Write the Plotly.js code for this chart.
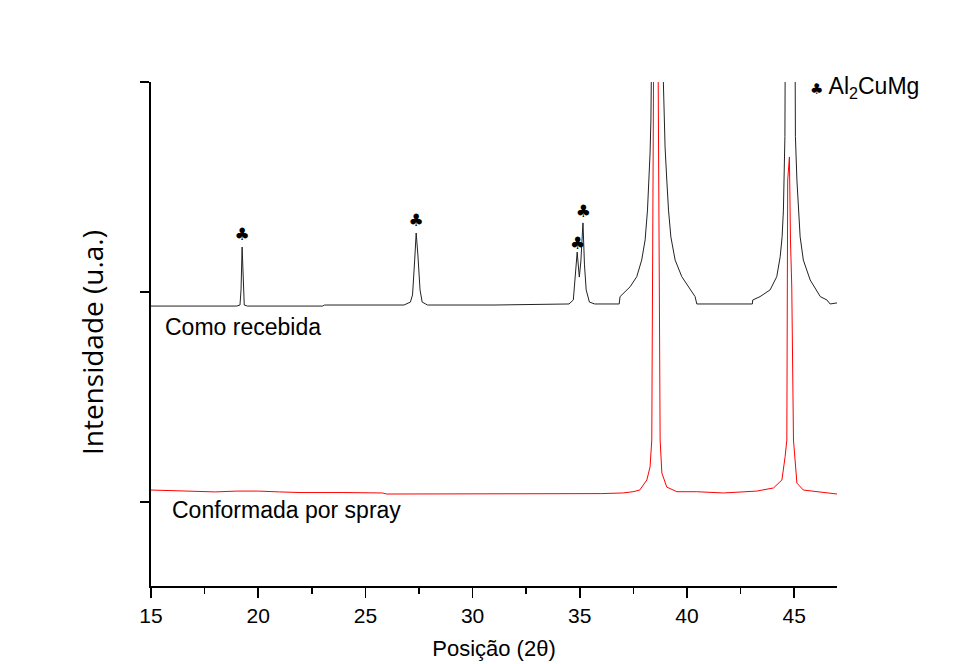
<!DOCTYPE html>
<html>
<head>
<meta charset="utf-8">
<script src="https://cdn.plot.ly/plotly-3.0.1.min.js"></script>
<style>html,body{margin:0;padding:0;background:#fff;}#chart{width:957px;height:664px;}</style>
</head>
<body>
<div id="chart"></div>
<script>
// "Como recebida" (as received) diffractogram, offset upward
const recebidaX = [15.0, 17.0, 19.0, 19.15, 19.2, 19.25, 19.3, 19.35, 19.5, 23.0, 23.1, 26.8, 27.1, 27.2, 27.3, 27.37, 27.45, 27.55, 27.65, 27.9, 31.0, 34.5, 34.7, 34.8, 34.88, 34.95, 34.98, 35.05, 35.15, 35.22, 35.3, 35.45, 35.7, 36.84, 36.88, 37.35, 37.66, 37.89, 38.05, 38.16, 38.24, 38.28, 38.32, 38.33, 38.62, 38.90, 38.94, 38.98, 39.06, 39.14, 39.25, 39.45, 39.76, 40.15, 40.38, 40.46, 43.05, 43.07, 43.41, 43.88, 44.19, 44.35, 44.44, 44.50, 44.53, 44.57, 44.58, 44.83, 45.05, 45.06, 45.13, 45.20, 45.28, 45.43, 45.75, 46.22, 46.53, 46.68, 47.0];
const recebidaY = [933, 933, 933, 938, 1010, 1214, 1010, 938, 933, 933, 938, 938, 952, 986, 1152, 1281, 1176, 1010, 952, 938, 938, 943, 962, 1081, 1190, 1105, 1071, 1143, 1329, 1129, 1010, 952, 943, 943, 978, 1025, 1073, 1152, 1248, 1390, 1533, 1662, 1819, 2000, 5000, 2000, 1819, 1690, 1533, 1390, 1262, 1152, 1073, 1010, 978, 943, 943, 962, 978, 1010, 1073, 1168, 1263, 1390, 1533, 1740, 2000, 5000, 2000, 1740, 1533, 1390, 1263, 1152, 1057, 978, 962, 943, 948];

// "Conformada por spray" (spray formed) diffractogram
const sprayX = [15.0, 16.0, 17.0, 18.0, 19.0, 20.0, 21.0, 22.0, 24.0, 25.0, 25.8, 26.0, 28.0, 30.0, 35.0, 36.0, 37.0, 37.49, 37.8, 38.13, 38.28, 38.36, 38.44, 38.55, 38.66, 38.75, 38.83, 39.06, 39.53, 40.46, 41.7, 43.26, 44.04, 44.43, 44.58, 44.66, 44.70, 44.78, 44.83, 44.89, 44.97, 45.13, 45.43, 46.06, 47.0];
const sprayY = [57, 55, 52, 48, 52, 52, 48, 45, 45, 45, 43, 38, 38, 38, 38, 40, 43, 49, 57, 105, 167, 295, 2000, 4500, 2000, 295, 138, 71, 49, 49, 43, 52, 67, 105, 216, 295, 1533, 1643, 1248, 1024, 295, 90, 57, 49, 38];

// Al2CuMg phase markers
const clubX = [19.25, 27.37, 34.9, 35.17];
const clubY = [1270, 1333, 1227, 1378];

const xTicks = [15, 20, 25, 30, 35, 40, 45];
const yTicks = [0, 1000, 2000];

const traces = [
  {x: recebidaX, y: recebidaY, type: 'scatter', mode: 'lines', line: {color: '#222222', width: 1}, hoverinfo: 'skip', showlegend: false, cliponaxis: true},
  {x: sprayX, y: sprayY, type: 'scatter', mode: 'lines', line: {color: '#ff0000', width: 1}, hoverinfo: 'skip', showlegend: false, cliponaxis: true},
  {x: clubX, y: clubY, type: 'scatter', mode: 'text', text: clubX.map(() => '♣'), textposition: 'middle center', textfont: {family: 'DejaVu Sans', size: 17, color: '#000'}, hoverinfo: 'skip', showlegend: false, cliponaxis: false}
];

const layout = {
  width: 957, height: 664,
  margin: {l: 151, r: 120, t: 82, b: 78},
  paper_bgcolor: '#ffffff', plot_bgcolor: '#ffffff',
  showlegend: false,
  xaxis: {
    range: [15, 47], tickmode: 'array', tickvals: xTicks, ticktext: xTicks.map(String),
    ticks: 'outside', ticklen: 10, tickwidth: 1.5, tickcolor: '#000',
    minor: {dtick: 2.5, ticks: 'outside', ticklen: 6, tickwidth: 1.5, tickcolor: '#000', showgrid: false},
    showline: true, linecolor: '#000', linewidth: 2, showgrid: false, zeroline: false,
    tickfont: {family: 'Liberation Sans, Arial, sans-serif', size: 21, color: '#000'},
    title: {text: 'Posição (2θ)', font: {family: 'Liberation Sans, Arial, sans-serif', size: 22, color: '#000'}, standoff: 14}
  },
  yaxis: {
    range: [-400, 2000], tickmode: 'array', tickvals: yTicks, showticklabels: false,
    ticks: 'outside', ticklen: 9, tickwidth: 1.5, tickcolor: '#000',
    showline: true, linecolor: '#000', linewidth: 2, showgrid: false, zeroline: false
  },
  annotations: [
    {xref: 'paper', yref: 'paper', x: -0.086, y: 0.482, xanchor: 'center', yanchor: 'middle', textangle: -90, showarrow: false, text: 'Intensidade (u.a.)', font: {family: 'Open Sans, Noto Sans, sans-serif', size: 28, color: '#000'}},
    {xref: 'x', yref: 'y', x: 15.55, y: 833, xanchor: 'left', yanchor: 'middle', showarrow: false, text: 'Como recebida', font: {family: 'Liberation Sans, Arial, sans-serif', size: 23, color: '#000'}},
    {xref: 'x', yref: 'y', x: 15.9, y: -40, xanchor: 'left', yanchor: 'middle', showarrow: false, text: 'Conformada por spray', font: {family: 'Liberation Sans, Arial, sans-serif', size: 23, color: '#000'}},
    {xref: 'paper', yref: 'paper', x: 0.958, y: 0.99, xanchor: 'left', yanchor: 'middle', showarrow: false, text: '<span style="font-family:DejaVu Sans;font-size:15px">♣</span> Al<sub>2</sub>CuMg', font: {family: 'Liberation Sans, Arial, sans-serif', size: 23, color: '#000'}}
  ]
};

Plotly.newPlot('chart', traces, layout, {staticPlot: true, displayModeBar: false});
</script>
</body>
</html>
